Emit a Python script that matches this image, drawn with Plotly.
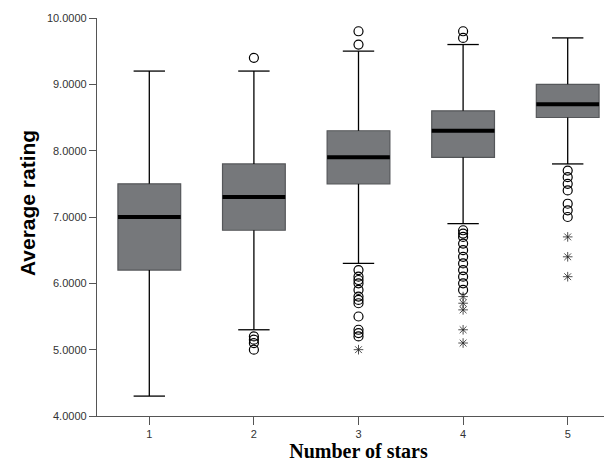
import plotly.graph_objects as go

stars = [1, 2, 3, 4, 5]
tick_labels = ["1", "2", "3", "4", "5"]
q1 = [6.2, 6.8, 7.5, 7.9, 8.5]
median = [7.0, 7.3, 7.9, 8.3, 8.7]
q3 = [7.5, 7.8, 8.3, 8.6, 9.0]
lower_whisker = [4.3, 5.3, 6.3, 6.9, 7.8]
upper_whisker = [9.2, 9.2, 9.5, 9.6, 9.7]

circle_outliers = {
    1: [],
    2: [9.4, 5.2, 5.15, 5.1, 5.0],
    3: [9.8, 9.6, 6.2, 6.1, 6.05, 6.0, 5.9, 5.8, 5.75, 5.7, 5.5, 5.3, 5.25, 5.2],
    4: [9.8, 9.7, 6.8, 6.75, 6.7, 6.6, 6.5, 6.4, 6.3, 6.2, 6.1, 6.0, 5.9],
    5: [7.7, 7.6, 7.5, 7.4, 7.2, 7.1, 7.0],
}
star_outliers = {
    1: [],
    2: [],
    3: [5.0],
    4: [5.8, 5.7, 5.6, 5.3, 5.1],
    5: [6.7, 6.4, 6.1],
}

BOX_W = 0.6
CAP_W = 0.3
fig = go.Figure()

# whiskers and caps (black)
wx, wy = [], []
for s, lo, a, b, hi in zip(stars, lower_whisker, q1, q3, upper_whisker):
    wx += [s, s, None, s, s, None,
           s - CAP_W / 2, s + CAP_W / 2, None, s - CAP_W / 2, s + CAP_W / 2, None]
    wy += [lo, a, None, b, hi, None, lo, lo, None, hi, hi, None]
fig.add_trace(go.Scatter(x=wx, y=wy, mode="lines",
                         line=dict(color="black", width=1.3),
                         showlegend=False, hoverinfo="skip"))

fig.add_trace(go.Box(
    x=stars, q1=q1, median=median, q3=q3,
    lowerfence=q1, upperfence=q3,
    width=BOX_W, whiskerwidth=0,
    fillcolor="#76787b", line=dict(color="#55575a", width=1.2),
    boxpoints=False, showlegend=False, hoverinfo="skip",
))

# thick median bars
mx, my = [], []
for s, m in zip(stars, median):
    mx += [s - BOX_W / 2, s + BOX_W / 2, None]
    my += [m, m, None]
fig.add_trace(go.Scatter(x=mx, y=my, mode="lines",
                         line=dict(color="black", width=4),
                         showlegend=False, hoverinfo="skip"))

cx, cy = [], []
for s in stars:
    for v in circle_outliers[s]:
        cx.append(s); cy.append(v)
fig.add_trace(go.Scatter(x=cx, y=cy, mode="markers",
                         marker=dict(symbol="circle-open", size=9,
                                     color="black", line=dict(width=1.2)),
                         showlegend=False, hoverinfo="skip"))

sx, sy = [], []
for s in stars:
    for v in star_outliers[s]:
        sx.append(s); sy.append(v)
fig.add_trace(go.Scatter(x=sx, y=sy, mode="markers",
                         marker=dict(symbol="asterisk-open", size=8,
                                     color="#222", line=dict(width=0.8, color="#222")),
                         showlegend=False, hoverinfo="skip"))

fig.update_layout(
    width=612, height=461,
    margin=dict(l=89, r=0, t=10, b=53, autoexpand=False),
    paper_bgcolor="white", plot_bgcolor="white",
    font=dict(family="Liberation Sans", size=11, color="#333"),
    xaxis=dict(range=[0.5, 5.5], tickmode="array", tickvals=stars, ticktext=tick_labels,
               ticks="outside", ticklen=8, tickcolor="#555", showline=True,
               linecolor="#555", linewidth=1.3, showgrid=False, zeroline=False,
               automargin=False,
               tickfont=dict(family="Liberation Sans", size=11, color="#333"),
               title=dict(text="<b>Number of stars</b>", standoff=2,
                          font=dict(family="Liberation Serif", size=20, color="black"))),
    yaxis=dict(range=[4, 10], tickmode="linear", tick0=4, dtick=1, tickformat=".4f",
               ticks="outside", ticklen=7, tickcolor="#555", showline=True,
               linecolor="#555", linewidth=1.3, showgrid=False, zeroline=False,
               automargin=False,
               tickfont=dict(family="Liberation Sans", size=11, color="#333")),
    annotations=[dict(text="<b>Average rating</b>", textangle=-90,
                      xref="paper", yref="paper", x=0, y=0.535,
                      xanchor="center", yanchor="middle", xshift=-70, showarrow=False,
                      font=dict(family="Liberation Sans", size=21, color="black"))],
)

fig.write_html("out.html")
